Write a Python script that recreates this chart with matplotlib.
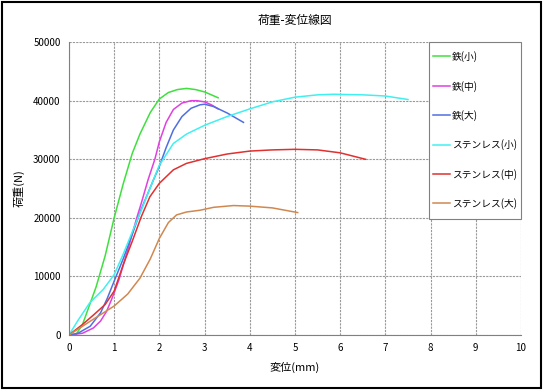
import matplotlib
matplotlib.use("Agg")
import matplotlib.pyplot as plt
from matplotlib.patches import Rectangle

plt.rcParams['font.family'] = ['Noto Sans CJK JP', 'DejaVu Sans']

# 読み取った値 (変位 mm, 荷重 N)
fe_s_x = [0, 0.15, 0.3, 0.45, 0.6, 0.8, 1.0, 1.2, 1.4, 1.57, 1.8, 2.0, 2.2, 2.4, 2.6, 2.8, 3.0, 3.3]
fe_s_y = [0, 0, 1800, 5000, 8200, 13500, 20000, 25800, 31000, 34300, 38000, 40300, 41400, 41900, 42100, 41900, 41500, 40500]

fe_m_x = [0, 0.3, 0.54, 0.7, 0.83, 0.95, 1.1, 1.3, 1.5, 1.6, 1.75, 1.9, 2.0, 2.15, 2.31, 2.5, 2.7, 2.83, 3.0, 3.15, 3.3]
fe_m_y = [0, 300, 1200, 2400, 4000, 6200, 9300, 14500, 20000, 22500, 26500, 30000, 33000, 36300, 38500, 39600, 40000, 40000, 39800, 39300, 38600]

fe_l_x = [0, 0.2, 0.47, 0.7, 0.85, 1.0, 1.2, 1.4, 1.6, 1.87, 2.0, 2.15, 2.31, 2.5, 2.7, 2.9, 3.0, 3.2, 3.5, 3.86]
fe_l_y = [0, 300, 1500, 3800, 6300, 9200, 13000, 17200, 21500, 26500, 28800, 32000, 35000, 37300, 38700, 39300, 39400, 39000, 37900, 36300]

st_s_x = [0, 0.2, 0.46, 0.76, 1.0, 1.2, 1.4, 1.6, 1.8, 2.0, 2.31, 2.6, 3.0, 3.5, 4.0, 4.5, 5.0, 5.5, 5.85, 6.5, 7.0, 7.5]
st_s_y = [0, 2500, 5500, 7800, 10300, 13800, 17600, 21300, 25200, 29000, 32700, 34300, 35800, 37300, 38600, 39800, 40600, 41000, 41100, 41000, 40800, 40200]

st_m_x = [0, 0.3, 0.54, 0.8, 1.0, 1.2, 1.4, 1.6, 1.79, 2.0, 2.31, 2.6, 3.0, 3.5, 4.0, 4.5, 5.0, 5.5, 6.0, 6.56]
st_m_y = [0, 1800, 3400, 5200, 7500, 12000, 16000, 20200, 23600, 25900, 28200, 29300, 30100, 30900, 31400, 31600, 31700, 31600, 31100, 30000]

st_l_x = [0, 0.5, 1.0, 1.3, 1.57, 1.8, 2.0, 2.2, 2.38, 2.6, 2.9, 3.2, 3.64, 4.0, 4.5, 5.06]
st_l_y = [0, 2500, 4950, 7000, 9700, 13000, 16500, 19200, 20500, 21000, 21300, 21800, 22100, 22000, 21700, 20900]

labels = ['鉄(小)', '鉄(中)', '鉄(大)', 'ステンレス(小)', 'ステンレス(中)', 'ステンレス(大)']
colors = ['#3ee03e', '#e040e0', '#4f6fe0', '#40f0f0', '#e03030', '#d08850']
series = [(fe_s_x, fe_s_y), (fe_m_x, fe_m_y), (fe_l_x, fe_l_y),
          (st_s_x, st_s_y), (st_m_x, st_m_y), (st_l_x, st_l_y)]

fig = plt.figure(figsize=(5.43, 3.90), dpi=100)
ax = fig.add_axes([0.127, 0.141, 0.8325, 0.751])

for (xs, ys), lab, c in zip(series, labels, colors):
    ax.plot(xs, ys, color=c, lw=1.1, label=lab)

ax.set_xlim(0, 10)
ax.set_ylim(0, 50000)
ax.set_xticks(range(0, 11))
ax.set_yticks(range(0, 50001, 10000))
ax.grid(True, color='#999999', linestyle=(0, (2, 1)), linewidth=0.8)
ax.tick_params(labelsize=7, length=0, pad=6)
for s in ['top', 'right']:
    ax.spines[s].set_visible(False)
for s in ['left', 'bottom']:
    ax.spines[s].set_color('#808080')

ax.set_title('荷重-変位線図', fontsize=8.5, pad=13)
ax.set_xlabel('変位(mm)', fontsize=8, labelpad=6)
ax.set_ylabel('荷重(N)', fontsize=8, labelpad=6)

leg = ax.legend(loc='upper right', bbox_to_anchor=(1.0, 1.0), fontsize=7, frameon=True,
                fancybox=False, edgecolor='#808080', framealpha=1,
                handlelength=1.75, handleheight=3.0, handletextpad=0.15,
                labelspacing=0.83, borderpad=0.45, borderaxespad=0)
leg.get_frame().set_linewidth(0.8)
# 凡例の線を文字の高さにそろえる
for ln in leg.get_lines():
    yd = ln.get_ydata()
    ln.set_ydata([v - 2.2 for v in yd])

fig.patches.append(Rectangle((0.004, 0.006), 0.992, 0.988, transform=fig.transFigure,
                             fill=False, edgecolor='black', linewidth=1.5))

fig.savefig('out.png', dpi=100)
